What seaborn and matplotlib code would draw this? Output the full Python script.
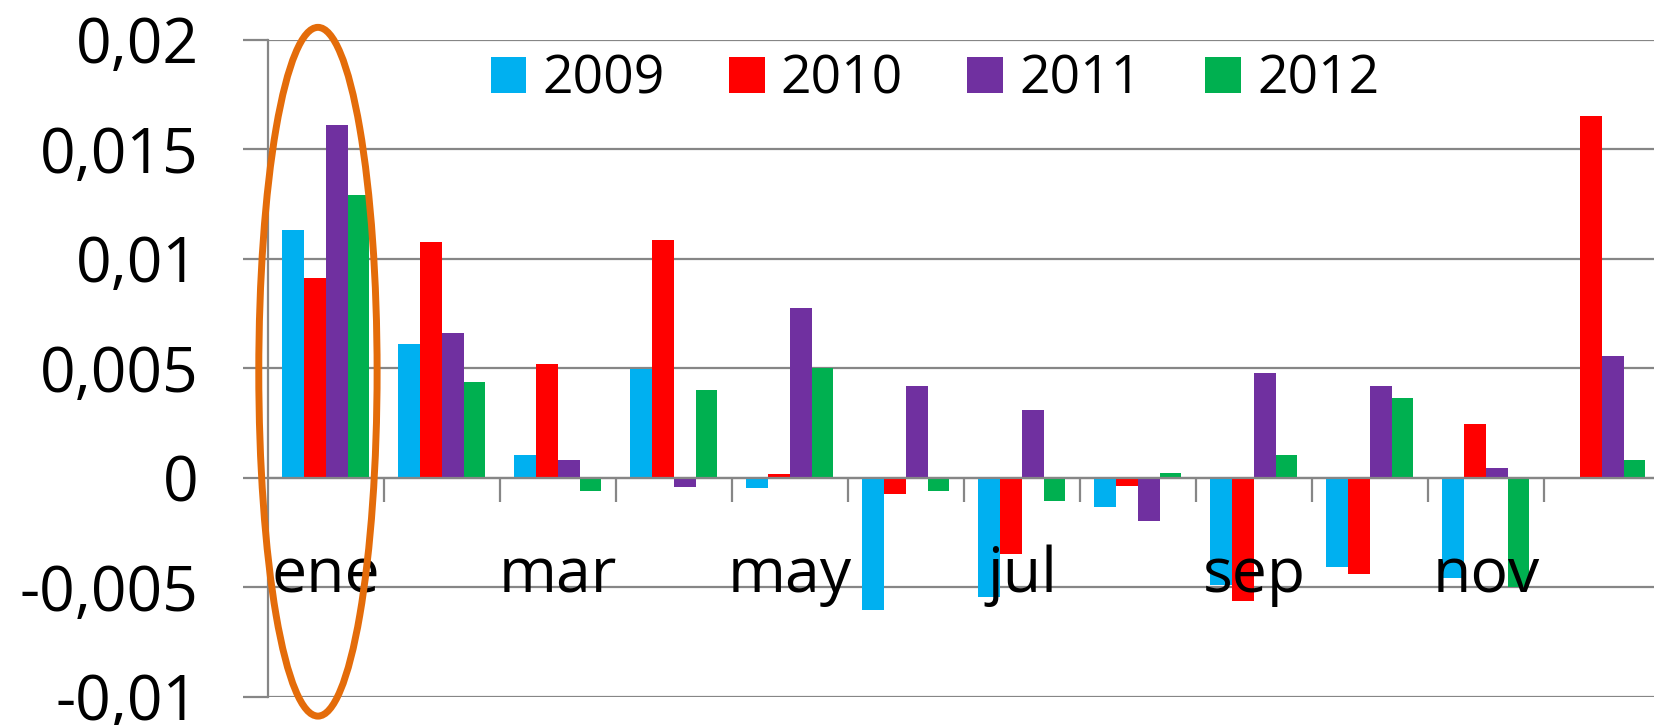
import matplotlib
matplotlib.use("Agg")
import matplotlib.pyplot as plt
from matplotlib.patches import Ellipse
import seaborn as sns
import pandas as pd

meses = ["ene", "feb", "mar", "abr", "may", "jun", "jul", "ago", "sep", "oct", "nov", "dic"]
etiquetas_x = ["ene", "", "mar", "", "may", "", "jul", "", "sep", "", "nov", ""]
anios = ["2009", "2010", "2011", "2012"]
v2009 = [0.0113, 0.0061, 0.00105, 0.00496, -0.00046, -0.00603, -0.00544, -0.00135, -0.0049, -0.00407, -0.00458, 0.0]
v2010 = [0.0091, 0.01074, 0.00517, 0.01084, 0.00017, -0.00076, -0.00348, -0.0004, -0.00565, -0.00439, 0.00245, 0.0165]
v2011 = [0.01608, 0.00662, 0.00082, -0.00042, 0.00776, 0.00416, 0.0031, -0.00198, 0.00479, 0.0042, 0.00042, 0.00557]
v2012 = [0.01291, 0.00435, -0.00061, 0.00399, 0.00502, -0.00061, -0.00108, 0.00019, 0.00105, 0.00365, -0.00502, 0.00082]
yticks = [-0.01, -0.005, 0, 0.005, 0.01, 0.015, 0.02]
ytick_labels = ["-0,01", "-0,005", "0", "0,005", "0,01", "0,015", "0,02"]
colores = ["#00B0F0", "#FF0000", "#7030A0", "#00B050"]

rows = []
for anio, vals in zip(anios, [v2009, v2010, v2011, v2012]):
    for m, v in zip(meses, vals):
        rows.append({"mes": m, "anio": anio, "valor": v})
df = pd.DataFrame(rows)

sns.set_style("white")
plt.rcParams["font.family"] = ["Open Sans", "DejaVu Sans"]
plt.rcParams["text.color"] = "black"
plt.rcParams["xtick.labelcolor"] = "black"
plt.rcParams["ytick.labelcolor"] = "black"

GRAY = "#868686"
fig = plt.figure(figsize=(16.54, 7.25), dpi=100)
ax = fig.add_axes([0.1620, 0.0393, 0.8416, 0.9062])

sns.barplot(data=df, x="mes", y="valor", hue="anio", order=meses, hue_order=anios,
            palette=colores, width=0.75, gap=0, errorbar=None, saturation=1,
            linewidth=0, ax=ax)

ax.set_xlim(-0.5, 11.5)
ax.set_ylim(-0.01, 0.02)
ax.set_xlabel("")
ax.set_ylabel("")

ax.set_yticks(yticks)
ax.set_yticklabels(ytick_labels)
ax.yaxis.grid(True, color=GRAY, linewidth=1.6)
ax.set_axisbelow(True)
ax.tick_params(axis="y", direction="out", length=18, width=1.6, color=GRAY, pad=32,
               left=True, labelsize=45, labelcolor="black")

# category labels drawn on top of the bars (as in the original)
ax.set_xticks(range(12))
ax.set_xticklabels([""] * 12)
ax.set_xticks([i + 0.5 for i in range(11)], minor=True)
ax.tick_params(axis="x", which="major", length=0)
ax.tick_params(axis="x", which="minor", direction="out", length=17, width=1.6, color=GRAY, bottom=True)
LABEL_Y = -0.00524
for i, lab in enumerate(etiquetas_x):
    if lab:
        ax.text(i, LABEL_Y, lab, ha="center", va="baseline", fontsize=45,
                color="black", zorder=6)

for s in ["top", "right"]:
    ax.spines[s].set_visible(False)
ax.spines["left"].set_color(GRAY)
ax.spines["left"].set_linewidth(1.6)
ax.spines["bottom"].set_position(("data", 0))
ax.spines["bottom"].set_color(GRAY)
ax.spines["bottom"].set_linewidth(1.6)

handles, labels = ax.get_legend_handles_labels()
ax.legend(handles, labels, loc="center", bbox_to_anchor=(935 / 1654, 1 - 80 / 725),
          bbox_transform=fig.transFigure, ncol=4, frameon=False, fontsize=38.5,
          handlelength=0.67, handleheight=0.67, handletextpad=0.3, columnspacing=1.2,
          borderpad=0, borderaxespad=0, labelcolor="black")

ell = Ellipse((-0.069, 0.00483), width=1.02, height=0.03145, fill=False,
              edgecolor="#E46C0A", linewidth=5, clip_on=False, zorder=7)
ax.add_patch(ell)

fig.savefig("out.png", dpi=100)
